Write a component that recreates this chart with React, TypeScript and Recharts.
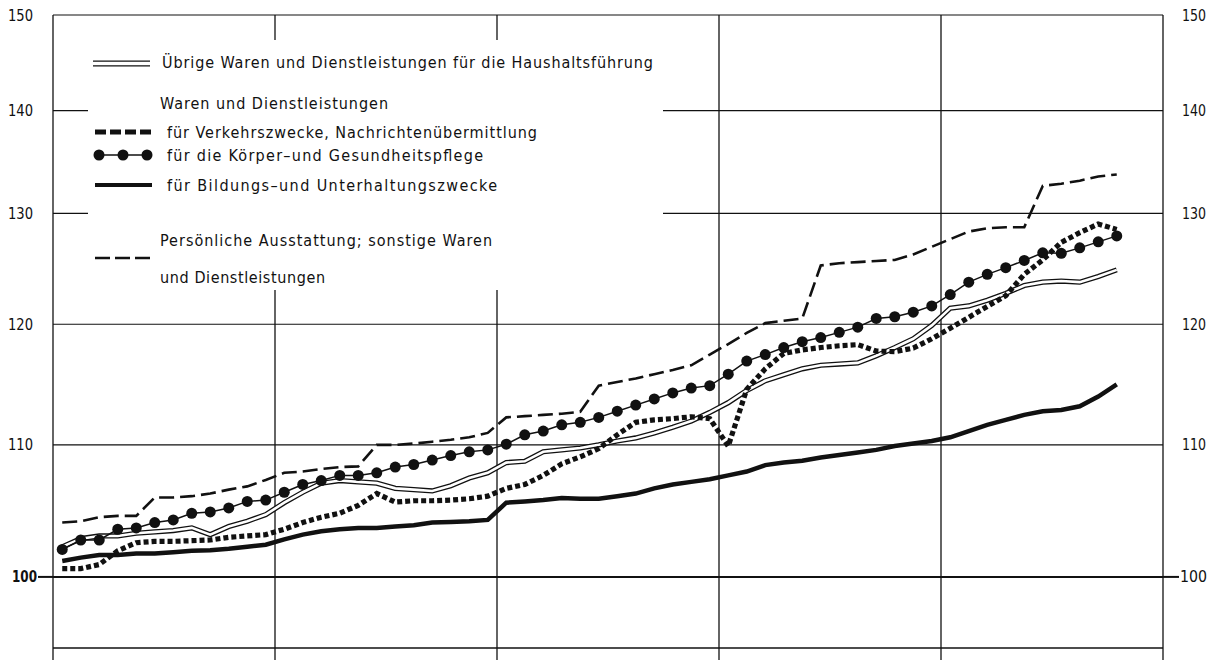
import { LineChart, Line, XAxis, YAxis, ReferenceLine, Legend } from "recharts";

// monthly index values, 5 years (last point = October of year 5)
const haushalt = [
  102.2, 102.8, 103.0, 103.0, 103.2, 103.3, 103.4, 103.6, 103.1, 103.7, 104.1, 104.6,
  105.5, 106.3, 107.0, 107.2, 107.1, 107.0, 106.6, 106.5, 106.4, 106.8, 107.4, 107.8,
  108.6, 108.7, 109.45, 109.6, 109.75, 110.0, 110.3, 110.55, 110.95, 111.4, 111.9, 112.6,
  113.4, 114.4, 115.2, 115.7, 116.2, 116.5, 116.6, 116.7, 117.3, 118.0, 118.75, 119.9,
  121.4, 121.6, 122.1, 122.7, 123.4, 123.7, 123.8, 123.7, 124.2, 124.8,
];
const verkehr = [
  100.6, 100.6, 100.9, 101.9, 102.5, 102.6, 102.6, 102.65, 102.7, 102.9, 103.0, 103.1,
  103.5, 104.0, 104.4, 104.7, 105.3, 106.2, 105.55, 105.65, 105.65, 105.7, 105.8, 106.0,
  106.6, 106.9, 107.6, 108.5, 109.05, 109.7, 110.8, 111.8, 112.0, 112.1, 112.25, 112.1,
  109.9, 114.5, 116.2, 117.5, 117.8, 118.0, 118.15, 118.25, 117.7, 117.65, 117.95, 118.75,
  119.65, 120.6, 121.55, 122.5, 124.4, 125.7, 127.3, 128.2, 129.0, 128.5,
];
const koerper = [
  102.0, 102.7, 102.7, 103.5, 103.6, 104.0, 104.2, 104.7, 104.8, 105.1, 105.6, 105.7,
  106.3, 106.9, 107.2, 107.6, 107.6, 107.8, 108.25, 108.45, 108.8, 109.15, 109.45, 109.6,
  110.05, 110.8, 111.1, 111.6, 111.8, 112.2, 112.7, 113.2, 113.7, 114.2, 114.6, 114.8,
  115.75, 116.85, 117.4, 118.0, 118.5, 118.85, 119.3, 119.75, 120.5, 120.65, 121.05, 121.6,
  122.6, 123.7, 124.4, 125.0, 125.65, 126.35, 126.3, 126.8, 127.35, 127.9,
];
const bildung = [
  101.15, 101.4, 101.6, 101.6, 101.7, 101.7, 101.8, 101.9, 101.95, 102.05, 102.2, 102.35,
  102.75, 103.1, 103.35, 103.5, 103.6, 103.6, 103.7, 103.8, 104.0, 104.05, 104.1, 104.2,
  105.5, 105.6, 105.7, 105.85, 105.8, 105.8, 106.0, 106.2, 106.6, 106.9, 107.1, 107.3,
  107.6, 107.9, 108.4, 108.6, 108.75, 109.0, 109.2, 109.4, 109.6, 109.9, 110.1, 110.3,
  110.6, 111.1, 111.6, 112.0, 112.4, 112.7, 112.8, 113.1, 113.9, 114.9,
];
const persoenlich = [
  104.0, 104.1, 104.4, 104.5, 104.5, 105.9, 105.9, 106.0, 106.2, 106.5, 106.75, 107.25,
  107.8, 107.9, 108.1, 108.25, 108.3, 110.0, 110.0, 110.1, 110.25, 110.4, 110.6, 110.95,
  112.2, 112.3, 112.4, 112.5, 112.65, 114.8, 115.1, 115.4, 115.75, 116.1, 116.5, 117.4,
  118.3, 119.25, 120.1, 120.3, 120.5, 125.2, 125.4, 125.5, 125.6, 125.7, 126.2, 126.9,
  127.6, 128.3, 128.6, 128.7, 128.7, 132.6, 132.8, 133.1, 133.5, 133.7,
];

const yearTicks = [0, 12, 24, 36, 48, 60];
const yTicks = [100, 110, 120, 130, 140, 150];

const FONT = "'Liberation Sans Narrow', 'DejaVu Sans Condensed', 'Roboto', sans-serif";
const INK = "#111";

// points sit in the middle of each month
const data = koerper.map((_, i) => ({
  t: i + 0.5,
  haushalt: haushalt[i],
  verkehr: verkehr[i],
  koerper: koerper[i],
  bildung: bildung[i],
  persoenlich: persoenlich[i],
}));

function LeftTick(props: any) {
  const { y, payload } = props;
  const is100 = payload.value === 100;
  return (
    <g>
      {is100 && <line x1={38} x2={53} y1={y} y2={y} stroke={INK} strokeWidth={2} />}
      <text
        x={is100 ? 12 : 8}
        y={y}
        textAnchor="start"
        dominantBaseline="central"
        textLength={25}
        lengthAdjust="spacingAndGlyphs"
        fontFamily={FONT}
        fontSize={16}
        fontWeight={is100 ? 700 : 400}
        fill={INK}
      >
        {payload.value}
      </text>
    </g>
  );
}

function RightTick(props: any) {
  const { y, payload } = props;
  const is100 = payload.value === 100;
  return (
    <g>
      {is100 && <line x1={1163} x2={1179} y1={y} y2={y} stroke={INK} strokeWidth={2} />}
      <text
        x={is100 ? 1180 : 1182}
        y={y}
        textAnchor="start"
        dominantBaseline="central"
        textLength={is100 ? 27 : 24}
        lengthAdjust="spacingAndGlyphs"
        fontFamily={FONT}
        fontSize={16}
        fill={INK}
      >
        {payload.value}
      </text>
    </g>
  );
}

function LegendBox() {
  const txt = { fontFamily: FONT, fontSize: 16, fill: INK, dominantBaseline: "central" as const };
  return (
    <svg width={575} height={250} style={{ display: "block" }}>
      <line x1={5} x2={62} y1={23.5} y2={23.5} stroke={INK} strokeWidth={6.2} />
      <line x1={4} x2={63} y1={23.5} y2={23.5} stroke="#fff" strokeWidth={3.6} />
      <text x={74} y={22} textLength={491} lengthAdjust="spacing" {...txt}>
        Übrige Waren und Dienstleistungen für die Haushaltsführung
      </text>

      <text x={72} y={63} textLength={228} lengthAdjust="spacing" {...txt}>
        Waren und Dienstleistungen
      </text>

      <line x1={7} x2={64} y1={92} y2={92} stroke={INK} strokeWidth={5} strokeDasharray="11 4" />
      <text x={79} y={92} textLength={370} lengthAdjust="spacing" {...txt}>
        für Verkehrszwecke, Nachrichtenübermittlung
      </text>

      <line x1={11} x2={59} y1={115} y2={115} stroke={INK} strokeWidth={1.5} />
      {[11, 35, 59].map((cx) => (
        <circle key={cx} cx={cx} cy={115} r={5.5} fill={INK} />
      ))}
      <text x={79} y={115} textLength={316} lengthAdjust="spacing" {...txt}>
        für die Körper–und Gesundheitspflege
      </text>

      <line x1={7} x2={64} y1={145} y2={145} stroke={INK} strokeWidth={4} />
      <text x={79} y={145} textLength={330} lengthAdjust="spacing" {...txt}>
        für Bildungs–und Unterhaltungszwecke
      </text>

      <line x1={7} x2={64} y1={218} y2={218} stroke={INK} strokeWidth={2.6} strokeDasharray="15 5" />
      <text x={72} y={200} textLength={332} lengthAdjust="spacing" {...txt}>
        Persönliche Ausstattung; sonstige Waren
      </text>
      <text x={72} y={237} textLength={165} lengthAdjust="spacing" {...txt}>
        und Dienstleistungen
      </text>
    </svg>
  );
}

export default function App() {
  return (
    <div style={{ position: "absolute", left: 0, top: 0, width: 1219, height: 665, background: "#fff" }}>
      <LineChart width={1219} height={665} data={data} margin={{ top: 15, right: 0, bottom: 0, left: 0 }}>
        <XAxis
          dataKey="t"
          type="number"
          domain={[0, 60]}
          ticks={yearTicks}
          tickFormatter={() => ""}
          tickSize={12}
          height={17}
          axisLine={{ stroke: INK, strokeWidth: 1.3 }}
          tickLine={{ stroke: INK, strokeWidth: 1.3 }}
        />
        <YAxis
          yAxisId="l"
          scale="log"
          type="number"
          domain={[95, 150]}
          allowDataOverflow
          ticks={yTicks}
          width={53}
          tick={<LeftTick />}
          tickLine={false}
          axisLine={{ stroke: INK, strokeWidth: 1.3 }}
        />
        <YAxis
          yAxisId="r"
          orientation="right"
          scale="log"
          type="number"
          domain={[95, 150]}
          allowDataOverflow
          ticks={yTicks}
          width={56}
          tick={<RightTick />}
          tickLine={false}
          axisLine={{ stroke: INK, strokeWidth: 1.3 }}
        />
        {yTicks.map((v) => (
          <ReferenceLine key={`h${v}`} yAxisId="l" y={v} stroke={INK} strokeWidth={v === 100 ? 2 : 1.2} />
        ))}
        {yearTicks.slice(1, -1).map((v) => (
          <ReferenceLine key={`v${v}`} yAxisId="l" x={v} stroke={INK} strokeWidth={1.3} />
        ))}

        <Line yAxisId="l" dataKey="haushalt" stroke={INK} strokeWidth={5.2} dot={false} isAnimationActive={false} legendType="none" />
        <Line yAxisId="l" dataKey="haushalt" stroke="#fff" strokeWidth={2.6} dot={false} isAnimationActive={false} legendType="none" />
        <Line yAxisId="l" dataKey="bildung" stroke={INK} strokeWidth={4.5} dot={false} isAnimationActive={false} />
        <Line yAxisId="l" dataKey="persoenlich" stroke={INK} strokeWidth={2.6} strokeDasharray="15 6" dot={false} isAnimationActive={false} />
        <Line yAxisId="l" dataKey="verkehr" stroke={INK} strokeWidth={5.2} strokeDasharray="5 3" dot={false} isAnimationActive={false} />
        <Line
          yAxisId="l"
          dataKey="koerper"
          stroke={INK}
          strokeWidth={1.5}
          dot={{ r: 5.5, fill: INK, stroke: INK, strokeWidth: 0 }}
          isAnimationActive={false}
        />

        <Legend
          layout="vertical"
          align="center"
          verticalAlign="middle"
          content={() => <LegendBox />}
          wrapperStyle={{ left: 88, top: 40, width: 575, height: 250, background: "#fff" }}
        />
      </LineChart>
    </div>
  );
}
